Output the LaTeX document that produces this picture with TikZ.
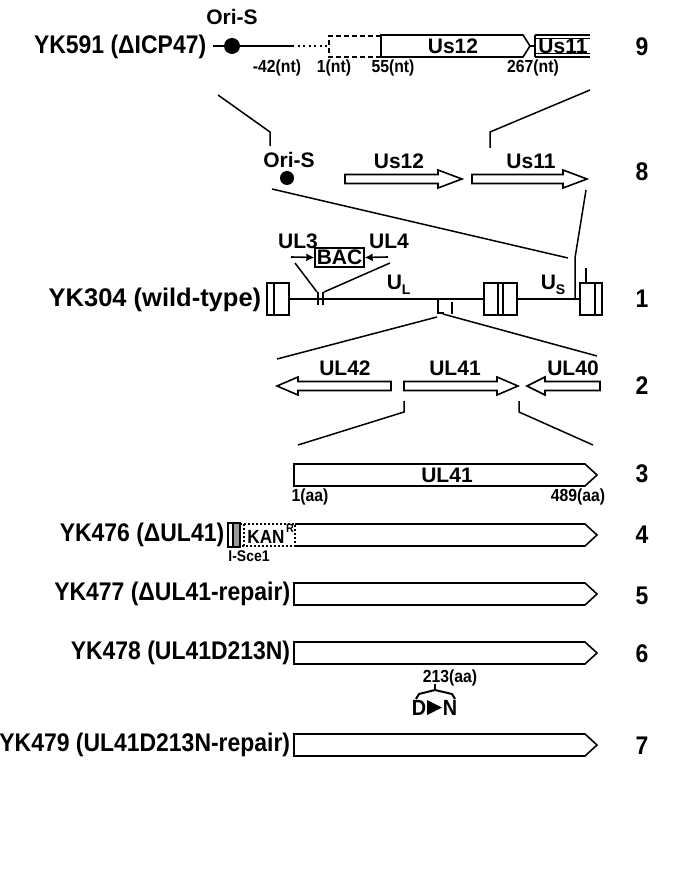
\documentclass[tikz,border=0pt]{standalone}
\usepackage{fontspec}
\setmainfont{Liberation Sans}
\newfontfamily\condfont[FakeStretch=0.9]{Liberation Sans}
\newfontfamily\widefont[FakeStretch=1.0]{Liberation Sans}
\usetikzlibrary{arrows.meta}
\begin{document}
\begin{tikzpicture}[x=1pt,y=-1pt,line width=1.6pt,line join=miter]
\tikzset{
  big/.style={font=\condfont\bfseries\fontsize{25.5}{25.5}\selectfont,inner sep=0pt},
  mid/.style={font=\bfseries\fontsize{21}{21}\selectfont,inner sep=0pt},
  small/.style={font=\condfont\bfseries\fontsize{17.5}{17.5}\selectfont,inner sep=0pt},
  tiny/.style={font=\condfont\bfseries\fontsize{15.5}{15.5}\selectfont,inner sep=0pt},
  dot/.style={circle,fill=black,inner sep=0pt},
  zoomline/.style={line width=1.5pt},
  gene/.style={line width=1.6pt},
}
\useasboundingbox (0,0) rectangle (688,882);

% ---------------- Row 9
\node[big,anchor=east] (yk591) at (207,47) {YK591 (ΔICP47)};
\node[mid] (ori9) at (232,17) {Ori-S};
\node[dot,minimum size=16pt] (c9) at (232,46) {};
\coordinate (d9) at (213,46);
\coordinate (l9) at (292,46);
\coordinate (p9) at (329,46);
\draw (d9) -- (c9.center) -- (l9);
\draw[dash pattern=on 2pt off 3.5pt] (l9) -- (p9);
\draw[dash pattern=on 5pt off 3pt] (381,36) -- (329,36) -- (329,57) -- (381,57);
\draw[gene] (381,35) -- (523,35) -- (530,46) -- (523,57) -- (381,57) -- cycle;
\node[mid] (us12b) at (453,46) {Us12};
\draw (530,46) -- (535,46);
\draw (535,35) -- (535,57);
\draw (535,35) -- (590,35);
\draw (535,57) -- (590,57);
\draw[line width=0.8pt] (535,38.5) -- (590,38.5);
\draw[line width=0.8pt] (535,53.5) -- (590,53.5);
\node[mid] (us11b) at (563,46) {Us11};
\node[small] (n42) at (277,68) {-42(nt)};
\node[small] (n1) at (334,68) {1(nt)};
\node[small] (n55) at (393,68) {55(nt)};
\node[small] (n267) at (533,68) {267(nt)};
\node[big] (r9) at (642,47) {9};

% zoom lines 9 -> 8
\coordinate (a1) at (218,95);
\coordinate (a2) at (270,132);
\coordinate (a3) at (270,146);
\draw[zoomline] (a1) -- (a2) -- (a3);
\coordinate (b1) at (590,90);
\coordinate (b2) at (490,132);
\coordinate (b3) at (490,148);
\draw[zoomline] (b1) -- (b2) -- (b3);

% ---------------- Row 8
\node[mid] (ori8) at (289,160) {Ori-S};
\node[dot,minimum size=14pt] (c8) at (287,178) {};
\draw[gene] (345,174.5) -- (438,174.5) -- (438,170) -- (462,179) -- (438,188) -- (438,183.5) -- (345,183.5) -- cycle;
\draw[gene] (472,174.5) -- (563,174.5) -- (563,170) -- (587,179) -- (563,188) -- (563,183.5) -- (472,183.5) -- cycle;
\node[mid] (us12) at (399,161) {Us12};
\node[mid] (us11) at (531,161) {Us11};
\node[big] (r8) at (642,172) {8};

% zoom lines 8 -> 1
\coordinate (e1) at (272,189);
\coordinate (e2) at (568,258);
\draw[zoomline] (e1) -- (e2);
\coordinate (f1) at (586,190);
\coordinate (f2) at (575,258);
\coordinate (f3) at (575,299);
\draw[zoomline] (f1) -- (f2) -- (f3);

% ---------------- Row 1
\node[big,font=\widefont\bfseries\fontsize{25.5}{25.5}\selectfont,anchor=east] (yk304) at (262,300) {YK304 (wild-type)};
\draw[gene] (267,283) rectangle (289,315);
\draw[gene] (274,283) -- (274,315);
\draw[gene] (484,283) rectangle (517,315);
\draw[gene] (498,283) -- (498,315);
\draw[gene] (503,283) -- (503,315);
\draw[gene] (580,283) rectangle (602,315);
\draw[gene] (595,283) -- (595,315);
\draw (289,299) -- (484,299);
\draw (517,299) -- (580,299);
\draw (586,268) -- (586,283);
\draw (318,292) -- (318,305);
\draw (323,292) -- (323,305);
\coordinate (g1) at (295,263);
\coordinate (g2) at (317,292);
\coordinate (h1) at (390,263);
\coordinate (h2) at (324,292);
\draw[zoomline] (g1) -- (g2);
\draw[zoomline] (h1) -- (h2);
\node[draw,line width=1.4pt,inner sep=0pt,minimum width=49pt,minimum height=19pt,font=\bfseries\fontsize{21}{21}\selectfont] (bac) at (339.5,257.5) {BAC};
\coordinate (ul3a) at (291,257);
\coordinate (ul4a) at (388,257);
\draw[-{Latex[length=8pt,width=8pt]}] (ul3a) -- (bac.west);
\draw[-{Latex[length=8pt,width=8pt]}] (ul4a) -- (bac.east);
\node[mid] (ul3) at (298,241) {UL3};
\node[mid] (ul4) at (389,241) {UL4};
\node[mid,anchor=base west] (ulab) at (386,289) {U\raisebox{-5pt}{\fontsize{14}{14}\selectfont L}};
\node[mid,anchor=base west] (uslab) at (540,289) {U\raisebox{-5pt}{\fontsize{14}{14}\selectfont S}};
\node[big] (r1) at (642,299) {1};
\draw (438,299) -- (438,313) -- (444,313);
\draw (452,302) -- (452,314);
\coordinate (k1) at (437,317);
\coordinate (k2) at (277,359);
\coordinate (m1) at (443,314);
\coordinate (m2) at (597,356);
\draw[zoomline] (k1) -- (k2);
\draw[zoomline] (m1) -- (m2);

% ---------------- Row 2
\draw[gene] (391,381.5) -- (298,381.5) -- (298,377) -- (277,386) -- (298,395) -- (298,390.5) -- (391,390.5) -- cycle;
\draw[gene] (404,381.5) -- (497,381.5) -- (497,377) -- (518,386) -- (497,395) -- (497,390.5) -- (404,390.5) -- cycle;
\draw[gene] (600,381.5) -- (545,381.5) -- (545,377) -- (527,386) -- (545,395) -- (545,390.5) -- (600,390.5) -- cycle;
\node[mid] (ul42) at (345,368) {UL42};
\node[mid] (ul41a) at (455,368) {UL41};
\node[mid] (ul40) at (573,368) {UL40};
\node[big] (r2) at (642,386) {2};
\coordinate (n1a) at (404,401);
\coordinate (n1b) at (404,412);
\coordinate (n1c) at (298,445);
\draw[zoomline] (n1a) -- (n1b) -- (n1c);
\coordinate (o1a) at (519,401);
\coordinate (o1b) at (519,412);
\coordinate (o1c) at (593,445);
\draw[zoomline] (o1a) -- (o1b) -- (o1c);

% ---------------- Row 3
\draw[gene] (294,464) -- (585,464) -- (597,475) -- (585,486) -- (294,486) -- cycle;
\node[mid] (ul41b) at (447,475) {UL41};
\node[small] (aa1) at (310,497) {1(aa)};
\node[small] (aa489) at (578,497) {489(aa)};
\node[big] (r3) at (642,474) {3};

% ---------------- Row 4
\node[big,anchor=east] (yk476) at (225,535) {YK476 (ΔUL41)};
\draw[gene,fill=gray!80] (233,523) rectangle (240,547);
\draw[gene] (228,523) rectangle (240,547);
\draw[line width=1.3pt,dash pattern=on 2pt off 2pt] (240,524) -- (295,524) -- (295,546) -- (240,546);
\draw[line width=1.2pt,dash pattern=on 2pt off 2pt] (244,524) -- (244,546);
\node[inner sep=0pt,font=\condfont\bfseries\fontsize{19}{19}\selectfont] (kan) at (266,537) {KAN};
\node[inner sep=0pt,font=\condfont\bfseries\fontsize{12}{12}\selectfont] (kanr) at (290,528) {R};
\draw[gene] (295,524) -- (585,524) -- (597,535) -- (585,546) -- (295,546);
\node[tiny] (isce) at (249,556) {I-Sce1};
\node[big] (r4) at (642,535) {4};

% ---------------- Row 5
\node[big,anchor=east] (yk477) at (291,594) {YK477 (ΔUL41-repair)};
\draw[gene] (294,583) -- (585,583) -- (597,594) -- (585,605) -- (294,605) -- cycle;
\node[big] (r5) at (642,596) {5};

% ---------------- Row 6
\node[big,anchor=east] (yk478) at (291,653) {YK478 (UL41D213N)};
\draw[gene] (294,642) -- (585,642) -- (597,653) -- (585,664) -- (294,664) -- cycle;
\node[big] (r6) at (642,654) {6};
\node[small,anchor=west] (aa213) at (422,678) {213(aa)};
\coordinate (br0) at (435,684);
\coordinate (br1) at (435,690);
\draw[line width=2pt] (br0) -- (br1);
\draw[line width=2pt] (416,699) -- (419,694) -- (br1) -- (452,694) -- (455,699);
\node[inner sep=0pt,font=\condfont\bfseries\fontsize{22}{22}\selectfont] (dd) at (419,708) {D};
\node[inner sep=0pt,font=\condfont\bfseries\fontsize{22}{22}\selectfont] (nn) at (450,708) {N};
\fill (427,700) -- (442,707.5) -- (427,715) -- cycle;

% ---------------- Row 7
\node[big,anchor=east] (yk479) at (291,745) {YK479 (UL41D213N-repair)};
\draw[gene] (294,734) -- (585,734) -- (597,745) -- (585,756) -- (294,756) -- cycle;
\node[big] (r7) at (642,746) {7};
\end{tikzpicture}
\end{document}
